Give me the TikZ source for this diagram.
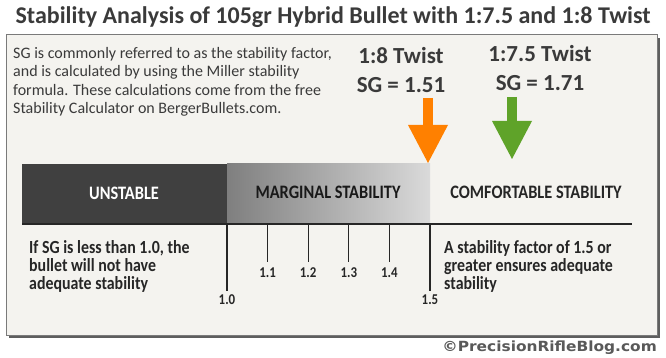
\documentclass[tikz,border=0pt]{standalone}
\usepackage{fontspec}
\setmainfont{Carlito}
\newfontfamily\narrowfont[FakeStretch=0.86]{Carlito}
\newfontfamily\blogfont[FakeStretch=1.1]{DejaVu Sans}
\usetikzlibrary{arrows.meta}
\definecolor{panelbg}{HTML}{F4F3EF}
\definecolor{panelline}{HTML}{7A7A7A}
\definecolor{shadowgray}{HTML}{5E5E5E}
\definecolor{inkgray}{HTML}{3A3A3A}
\definecolor{darkband}{HTML}{404040}
\definecolor{gradleft}{HTML}{7F7F7F}
\definecolor{gradright}{HTML}{DADADA}
\definecolor{twistorange}{HTML}{FF8000}
\definecolor{twistgreen}{HTML}{5FA329}
\tikzset{
  titletext/.style={font=\bfseries\fontsize{24}{26}\selectfont, text=inkgray, inner sep=0pt},
  notetext/.style={font=\fontsize{16}{18.5}\selectfont, text=inkgray, align=left, inner sep=0pt, anchor=north west},
  twisttext/.style={font=\bfseries\fontsize{23}{28}\selectfont, text=inkgray, inner sep=0pt},
  bandtext/.style={font=\narrowfont\bfseries\fontsize{19}{22}\selectfont, inner sep=0pt},
  sidetext/.style={font=\narrowfont\bfseries\fontsize{18.5}{18}\selectfont, text=black!85, align=left, inner sep=0pt, anchor=north west},
  ticklabel/.style={font=\narrowfont\bfseries\fontsize{15}{17}\selectfont, text=black!85, inner sep=0pt},
  twistarrow/.style={line width=10pt, -{Triangle[length=38pt,width=40pt,line width=0pt]}},
  scaletick/.style={line width=1.3pt, draw=black!85}
}
\begin{document}
\begin{tikzpicture}[x=1pt,y=-1pt]
  \useasboundingbox (0,0) rectangle (666,358);
  \fill[white] (0,0) rectangle (666,358);

  % panel with shadow
  \fill[shadowgray] (9,38) rectangle (660,338);
  \filldraw[fill=panelbg, draw=panelline, line width=1pt] (6,35) rectangle (657,335);

  \node[titletext] (title) at (333,17) {Stability Analysis of 105gr Hybrid Bullet with 1:7.5 and 1:8 Twist};
  \node[notetext] (note) at (13,47) {SG is commonly referred to as the stability factor,\\and is calculated by using the Miller stability\\formula. These calculations come from the free\\Stability Calculator on BergerBullets.com.};

  \node[twisttext] (twisteight) at (401,56) {1:8 Twist};
  \node[twisttext] (sgeight)    at (401,85) {SG = 1.51};
  \node[twisttext] (twistseven) at (540,54) {1:7.5 Twist};
  \node[twisttext] (sgseven)    at (540,83) {SG = 1.71};

  % stability band
  \fill[darkband] (22,164) rectangle (227,224);
  \shade[left color=gradleft, right color=gradright] (227,164) rectangle (430,224);
  \draw[line width=2pt, black!85] (22,224) -- (632,224);

  \node[bandtext, text=white]    (unstable)    at (124,193) {UNSTABLE};
  \node[bandtext, text=black!90] (marginal)    at (328,192) {MARGINAL STABILITY};
  \node[bandtext, text=black!85] (comfortable) at (536,192) {COMFORTABLE STABILITY};

  % twist arrows
  \coordinate (eighttop) at (428,98);
  \coordinate (eighttip) at (428,163);
  \coordinate (seventop) at (512,97);
  \coordinate (seventip) at (512,159);
  \draw[twistarrow, twistorange] (eighttop) -- (eighttip);
  \draw[twistarrow, twistgreen]  (seventop) -- (seventip);

  % scale
  \draw[scaletick] (227,224) -- (227,291);
  \draw[scaletick] (430,224) -- (430,291);
  \foreach \k/\lab in {1/1.1,2/1.2,3/1.3,4/1.4} {
    \draw[scaletick] ({227+40.6*\k},224) -- ({227+40.6*\k},262);
    \node[ticklabel] (tick\k) at ({227+40.6*\k},273) {\lab};
  }
  \node[ticklabel] (lowlabel)  at (227,300) {1.0};
  \node[ticklabel] (highlabel) at (430,300) {1.5};

  \node[sidetext] (unstablenote) at (29,240) {If SG is less than 1.0, the\\bullet will not have\\adequate stability};
  \node[sidetext] (comfortnote)  at (444,240) {A stability factor of 1.5 or\\greater ensures adequate\\stability};

  \node[font=\blogfont\bfseries\fontsize{14}{16}\selectfont, text=black!65, anchor=east, inner sep=0pt] (blog) at (657,348) {©PrecisionRifleBlog.com};
\end{tikzpicture}
\end{document}
